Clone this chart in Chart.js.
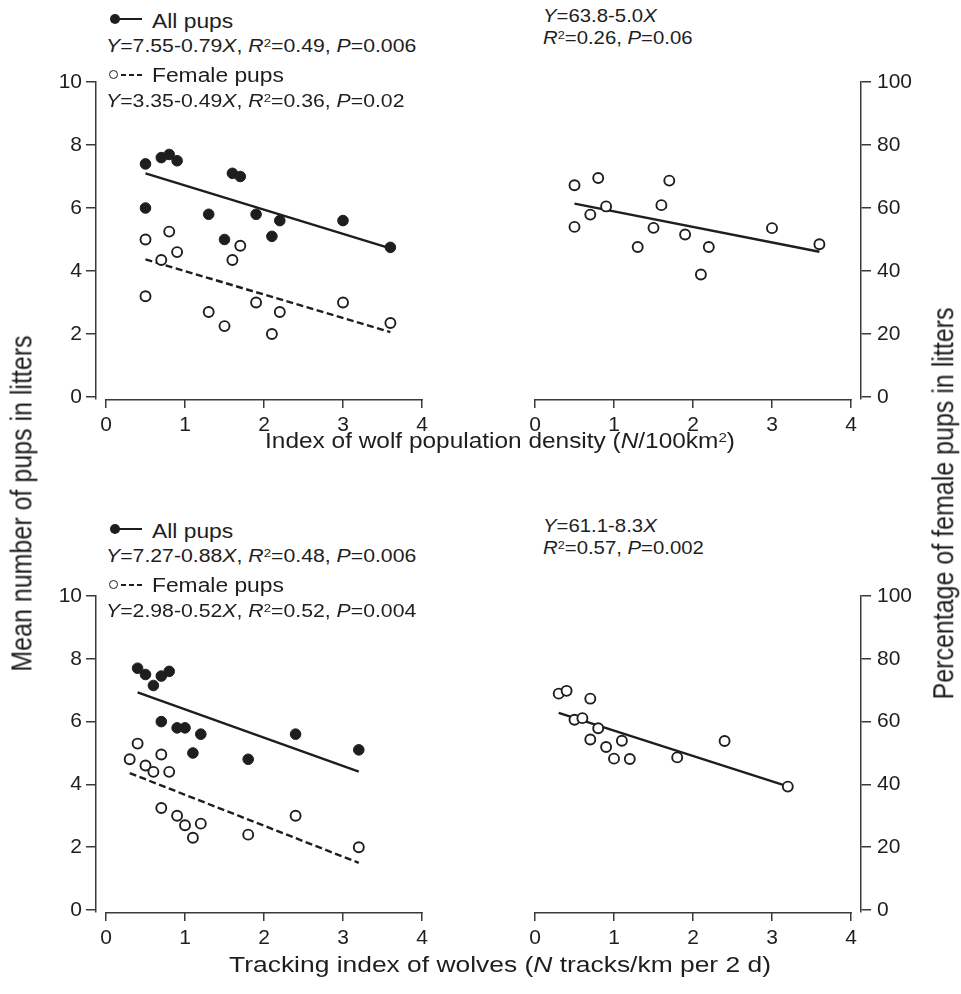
<!DOCTYPE html>
<html>
<head>
<meta charset="utf-8">
<script src="https://cdn.jsdelivr.net/npm/chart.js@4.4.1/dist/chart.umd.min.js"></script>
<style>
  body { margin: 0; background: #fff; overflow: hidden; }
  #wrap { position: relative; width: 961px; height: 994px; font-family: "Liberation Sans", Arial, sans-serif; color: #1e1e1e; }
  canvas { position: absolute; }
  .t { position: absolute; white-space: nowrap; line-height: 1; transform-origin: 0 0; }
  .lab { font-size: 19.5px; transform: scaleX(1.17); }
  .eq { font-size: 18px; transform: scaleX(1.18); }
  .eqr { font-size: 18.5px; transform: scaleX(1.1); }
  .sup { position: relative; top: -0.45em; font-size: 0.62em; }
  .xt { font-size: 22px; transform-origin: 50% 50%; transform: translateX(-50%) scaleX(1.11); }
  .yt { font-size: 25px; transform-origin: 50% 50%; }
  .dot { position: absolute; width: 10px; height: 10px; border-radius: 50%; background: #1e1e1e; }
  .ring { position: absolute; width: 7px; height: 7px; border-radius: 50%; border: 1.6px solid #1e1e1e; background: #fff; }
  .ln { position: absolute; height: 2px; background: #1e1e1e; }
  .dash { position: absolute; height: 2px; background: repeating-linear-gradient(90deg, #1e1e1e 0 5px, transparent 5px 8px); }
</style>
</head>
<body>
<div id="wrap">
  <canvas id="densCount" width="480" height="390" style="left:0;top:60px"></canvas>
  <canvas id="densPct" width="481" height="390" style="left:480px;top:60px"></canvas>
  <canvas id="trackCount" width="480" height="390" style="left:0;top:574px"></canvas>
  <canvas id="trackPct" width="481" height="390" style="left:480px;top:574px"></canvas>

  <!-- leyenda panel superior -->
  <div class="dot" style="left:110px;top:14px"></div>
  <div class="ln" style="left:116px;top:18px;width:26px"></div>
  <div class="t lab" style="left:152px;top:11.5px">All pups</div>
  <div class="t eq" style="left:106px;top:36.7px"><i>Y</i>=7.55-0.79<i>X</i>, <i>R</i><span class="sup">2</span>=0.49, <i>P</i>=0.006</div>
  <div class="ring" style="left:109px;top:70px"></div>
  <div class="dash" style="left:121px;top:74px;width:22px"></div>
  <div class="t lab" style="left:152px;top:65.8px">Female pups</div>
  <div class="t eq" style="left:106px;top:92px"><i>Y</i>=3.35-0.49<i>X</i>, <i>R</i><span class="sup">2</span>=0.36, <i>P</i>=0.02</div>
  <div class="t eqr" style="left:543px;top:6.9px"><i>Y</i>=63.8-5.0<i>X</i></div>
  <div class="t eqr" style="left:543px;top:29.3px"><i>R</i><span class="sup">2</span>=0.26, <i>P</i>=0.06</div>

  <!-- leyenda panel inferior -->
  <div class="dot" style="left:110px;top:524px"></div>
  <div class="ln" style="left:116px;top:528px;width:26px"></div>
  <div class="t lab" style="left:152px;top:521.5px">All pups</div>
  <div class="t eq" style="left:106px;top:546.7px"><i>Y</i>=7.27-0.88<i>X</i>, <i>R</i><span class="sup">2</span>=0.48, <i>P</i>=0.006</div>
  <div class="ring" style="left:109px;top:580px"></div>
  <div class="dash" style="left:121px;top:584px;width:22px"></div>
  <div class="t lab" style="left:152px;top:575.8px">Female pups</div>
  <div class="t eq" style="left:106px;top:602px"><i>Y</i>=2.98-0.52<i>X</i>, <i>R</i><span class="sup">2</span>=0.52, <i>P</i>=0.004</div>
  <div class="t eqr" style="left:543px;top:516.9px"><i>Y</i>=61.1-8.3<i>X</i></div>
  <div class="t eqr" style="left:543px;top:539.3px"><i>R</i><span class="sup">2</span>=0.57, <i>P</i>=0.002</div>

  <!-- títulos de ejes -->
  <div class="t xt" style="left:500px;top:430px">Index of wolf population density (<i>N</i>/100km<span class="sup">2</span>)</div>
  <div class="t xt" style="left:500px;top:954px;transform:translateX(-50%) scaleX(1.2)">Tracking index of wolves (<i>N</i> tracks/km per 2 d)</div>
  <div class="t yt" id="yl">Mean number of pups in litters</div>
  <div class="t yt" id="yr">Percentage of female pups in litters</div>
</div>

<script>
const FONT = '"Liberation Sans", Arial, sans-serif';
const INK = '#1e1e1e';
const AXIS = '#3a3a3a';

// Ticks
const xTicks = [0, 1, 2, 3, 4];
const countTicks = [0, 2, 4, 6, 8, 10];
const pctTicks = [0, 20, 40, 60, 80, 100];

// Índice de densidad de lobos (N/100km2)
const densAllX = [0.5, 0.7, 0.8, 0.9, 1.6, 1.7, 0.5, 1.3, 1.9, 2.2, 3.0, 1.5, 2.1, 3.6];
const densAllY = [7.4, 7.6, 7.7, 7.5, 7.1, 7.0, 6.0, 5.8, 5.8, 5.6, 5.6, 5.0, 5.1, 4.75];
const densFemX = [0.5, 0.8, 0.7, 0.9, 1.7, 1.6, 0.5, 1.3, 1.5, 1.9, 2.2, 2.1, 3.0, 3.6];
const densFemY = [5.0, 5.25, 4.35, 4.6, 4.8, 4.35, 3.2, 2.7, 2.25, 3.0, 2.7, 2.0, 3.0, 2.35];
const densPctX = [0.5, 0.8, 1.7, 0.9, 0.7, 1.6, 0.5, 1.5, 1.9, 1.3, 2.2, 2.1, 3.0, 3.6];
const densPctY = [67.2, 69.5, 68.7, 60.5, 57.9, 60.9, 54.0, 53.7, 51.6, 47.6, 47.6, 38.9, 53.6, 48.5];
const densFitX = [0.5, 3.6];
const densAllFitY = [7.1, 4.72];
const densFemFitY = [4.37, 2.06];
const densPctFitY = [61.4, 46.1];

// Índice de rastreo (N huellas/km por 2 d)
const trackAllX = [0.4, 0.5, 0.6, 0.7, 0.8, 0.7, 0.9, 1.0, 1.2, 1.1, 1.8, 2.4, 3.2];
const trackAllY = [7.7, 7.5, 7.15, 7.45, 7.6, 6.0, 5.8, 5.8, 5.6, 5.0, 4.8, 5.6, 5.1];
const trackFemX = [0.4, 0.3, 0.5, 0.6, 0.7, 0.8, 0.7, 0.9, 1.0, 1.2, 1.1, 1.8, 2.4, 3.2];
const trackFemY = [5.3, 4.8, 4.6, 4.4, 4.95, 4.4, 3.25, 3.0, 2.7, 2.75, 2.3, 2.4, 3.0, 2.0];
const trackPctX = [0.3, 0.4, 0.7, 0.5, 0.6, 0.8, 0.7, 0.9, 1.1, 1.0, 1.2, 1.8, 2.4, 3.2];
const trackPctY = [68.9, 69.8, 67.3, 60.6, 61.1, 57.9, 54.3, 51.9, 53.9, 48.2, 48.1, 48.6, 53.8, 39.3];
const trackAllFitX = [0.4, 3.2];
const trackAllFitY = [6.93, 4.41];
const trackFemFitX = [0.3, 3.2];
const trackFemFitY = [4.36, 1.5];
const trackPctFitX = [0.3, 3.2];
const trackPctFitY = [62.8, 39.4];

function pts(xs, ys) {
    return xs.map((x, i) => ({ x: x, y: ys[i] }));
}

function points(xs, ys, filled) {
    return {
        data: pts(xs, ys),
        pointRadius: filled ? 5.3 : 5,
        pointBackgroundColor: filled ? INK : '#fff',
        pointBorderColor: INK,
        pointBorderWidth: filled ? 1 : 1.9,
        showLine: false
    };
}

function fit(xs, ys, dashed) {
    return {
        data: pts(xs, ys),
        showLine: true,
        borderColor: INK,
        borderWidth: 2.4,
        borderDash: dashed ? [7, 3.5] : [],
        pointRadius: 0
    };
}

// Línea base del eje X separada del eje Y (solo de 0 a 4)
const baseline = {
    id: 'baseline',
    afterDraw(chart) {
        const { ctx, chartArea, scales: { x } } = chart;
        ctx.save();
        ctx.strokeStyle = AXIS;
        ctx.lineWidth = 1.5;
        ctx.beginPath();
        ctx.moveTo(x.getPixelForValue(xTicks[0]) - 0.75, chartArea.bottom + 0.75);
        ctx.lineTo(x.getPixelForValue(xTicks[xTicks.length - 1]) + 0.75, chartArea.bottom + 0.75);
        ctx.stroke();
        ctx.restore();
    }
};

function makePanel(id, side, yTicks, padBottom, datasets) {
    const left = side === 'left';
    const yMax = yTicks[yTicks.length - 1];
    const gap = 0.1266;
    new Chart(document.getElementById(id), {
        type: 'scatter',
        data: { datasets: datasets },
        options: {
            responsive: false,
            animation: false,
            layout: {
                padding: left ? { left: 0, right: 58, top: 22, bottom: padBottom }
                              : { left: 55, right: 0, top: 22, bottom: padBottom }
            },
            plugins: { legend: { display: false }, tooltip: { enabled: false } },
            scales: {
                x: {
                    type: 'linear',
                    position: 'bottom',
                    min: left ? -gap : 0,
                    max: left ? 4 : 4 + gap,
                    afterBuildTicks: s => { s.ticks = xTicks.map(v => ({ value: v })); },
                    afterFit: s => { s.height = 40; },
                    border: { display: false },
                    grid: { drawOnChartArea: false, drawTicks: true, tickLength: 9, color: AXIS, lineWidth: 1.5 },
                    ticks: { color: INK, font: { family: FONT, size: 21 }, padding: 5, maxRotation: 0, autoSkip: false }
                },
                y: {
                    type: 'linear',
                    position: left ? 'left' : 'right',
                    // el eje X queda 2 px por debajo del cero
                    min: -0.0064 * yMax,
                    max: yMax,
                    afterBuildTicks: s => { s.ticks = yTicks.map(v => ({ value: v })); },
                    afterFit: s => { s.width = left ? 96 : 100; },
                    border: { display: true, color: AXIS, width: 1.5 },
                    grid: { drawOnChartArea: false, drawTicks: true, tickLength: 10, color: AXIS, lineWidth: 1.5 },
                    ticks: { color: INK, font: { family: FONT, size: 21 }, padding: left ? 4 : 6, autoSkip: false }
                }
            }
        },
        plugins: [baseline]
    });
}

makePanel('densCount', 'left', countTicks, 11, [
    points(densAllX, densAllY, true),
    points(densFemX, densFemY, false),
    fit(densFitX, densAllFitY, false),
    fit(densFitX, densFemFitY, true)
]);
makePanel('densPct', 'right', pctTicks, 11, [
    points(densPctX, densPctY, false),
    fit(densFitX, densPctFitY, false)
]);
makePanel('trackCount', 'left', countTicks, 12, [
    points(trackAllX, trackAllY, true),
    points(trackFemX, trackFemY, false),
    fit(trackAllFitX, trackAllFitY, false),
    fit(trackFemFitX, trackFemFitY, true)
]);
makePanel('trackPct', 'right', pctTicks, 12, [
    points(trackPctX, trackPctY, false),
    fit(trackPctFitX, trackPctFitY, false)
]);

// Títulos verticales centrados en (x, y)
function placeVertical(id, cx, cy, sy) {
    const el = document.getElementById(id);
    const w = el.offsetWidth, h = el.offsetHeight;
    el.style.left = (cx - w / 2) + 'px';
    el.style.top = (cy - h / 2) + 'px';
    el.style.transform = 'rotate(-90deg) scaleY(' + sy + ')';
}
placeVertical('yl', 22, 503, 1.15);
placeVertical('yr', 944, 503, 1.15);
</script>
</body>
</html>
